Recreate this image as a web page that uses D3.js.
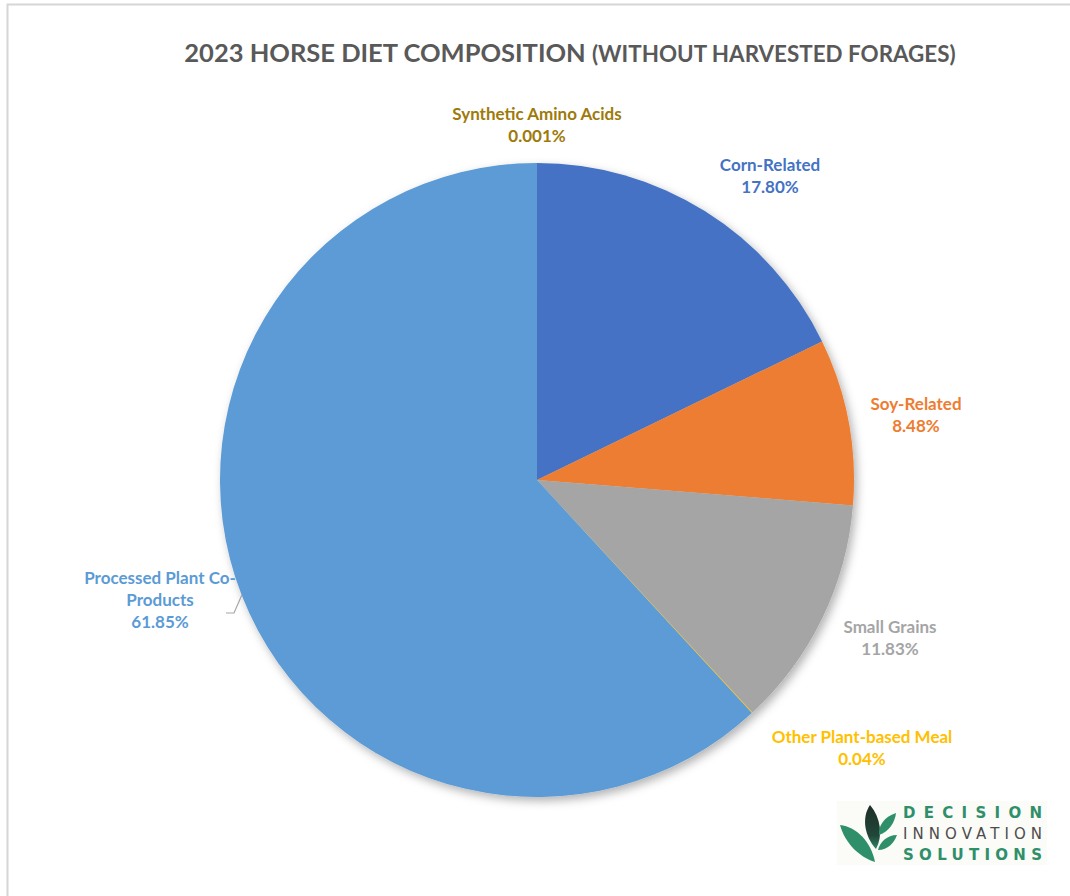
<!DOCTYPE html>
<html>
<head>
<meta charset="utf-8">
<script src="https://cdn.jsdelivr.net/npm/d3@7/dist/d3.min.js"></script>
<style>
  html, body { margin: 0; padding: 0; background: #fff; }
  svg { display: block; }
</style>
</head>
<body>
<svg id="chart" width="1070" height="896"></svg>
<script>
// Diet composition shares (%), clockwise from 12 o'clock
const categories = [
  "Corn-Related",
  "Soy-Related",
  "Small Grains",
  "Other Plant-based Meal",
  "Processed Plant Co-Products",
  "Synthetic Amino Acids"
];
const shares = [17.80, 8.48, 11.83, 0.04, 61.85, 0.001];
const shareLabels = ["17.80%", "8.48%", "11.83%", "0.04%", "61.85%", "0.001%"];
const labelLines = [
  ["Corn-Related"],
  ["Soy-Related"],
  ["Small Grains"],
  ["Other Plant-based Meal"],
  ["Processed Plant Co-", "Products"],
  ["Synthetic Amino Acids"]
];

// Slice fills and label colours
const sliceColors = ["#4472C4", "#ED7D31", "#A5A5A5", "#FFC000", "#5B9BD5", "#9E7A0A"];
const labelColors = ["#4472C4", "#ED7D31", "#A5A5A5", "#FFC000", "#5B9BD5", "#9E7A0A"];
// Label block centres (first line), in page pixels
const labelAnchors = [
  [770, 171], [916, 410], [890, 633], [862, 743], [160, 584], [537, 120]
];

const svg = d3.select("#chart");
const W = 1070, H = 896;
const cx = 537, cy = 480, R = 317;
const font = "Lato, 'Open Sans', sans-serif";

// Frame
svg.append("path")
  .attr("d", `M7.5,${H} V4.5 H${W}`)
  .attr("fill", "none")
  .attr("stroke", "#d6d6d6")
  .attr("stroke-width", 2);

// Title
const title = svg.append("text")
  .attr("x", 570).attr("y", 62)
  .attr("text-anchor", "middle")
  .attr("font-family", font)
  .attr("font-weight", "bold")
  .attr("fill", "#595959");
title.append("tspan").attr("font-size", 25.5).text("2023 HORSE DIET COMPOSITION ");
title.append("tspan").attr("font-size", 22.4).text("(WITHOUT HARVESTED FORAGES)");

// Shadow filter
const defs = svg.append("defs");
const f = defs.append("filter").attr("id", "pieShadow")
  .attr("x", "-10%").attr("y", "-10%").attr("width", "125%").attr("height", "125%");
f.append("feDropShadow")
  .attr("dx", 3).attr("dy", 4).attr("stdDeviation", 5)
  .attr("flood-color", "#000").attr("flood-opacity", 0.3);

const pie = d3.pie().sort(null).value(d => d);
const arcs = pie(shares);
const arc = d3.arc().innerRadius(0).outerRadius(R);
const edgeArc = d3.arc().innerRadius(R).outerRadius(R);

const g = svg.append("g").attr("transform", `translate(${cx},${cy})`);
const slices = g.append("g").attr("filter", "url(#pieShadow)");
slices.selectAll("path")
  .data(arcs)
  .join("path")
  .attr("d", arc)
  .attr("fill", (d, i) => sliceColors[i]);

// Data labels
const labels = svg.append("g")
  .attr("font-family", font)
  .attr("font-weight", "bold")
  .attr("font-size", 17)
  .attr("text-anchor", "middle");

categories.forEach((c, i) => {
  const [lx, ly] = labelAnchors[i];
  const t = labels.append("text")
    .attr("x", lx).attr("y", ly)
    .attr("fill", labelColors[i]);
  const lines = labelLines[i].concat([shareLabels[i]]);
  lines.forEach((s, k) => {
    t.append("tspan").attr("x", lx).attr("dy", k === 0 ? 0 : 22).text(s);
  });
});

// Leader line for the large slice
{
  const i = 4;
  const [ex, ey] = edgeArc.centroid(arcs[i]);
  const px = cx + ex, py = cy + ey;
  svg.append("polyline")
    .attr("points", `${226},${613} ${234},${613} ${px},${py}`)
    .attr("fill", "none")
    .attr("stroke", "#a6a6a6")
    .attr("stroke-width", 1.2);
}

// Company logo
const logo = svg.append("g");
logo.append("rect")
  .attr("x", 837).attr("y", 801).attr("width", 210).attr("height", 64)
  .attr("fill", "#fbfbf8");
const leafGrad = defs.append("linearGradient").attr("id", "darkLeaf")
  .attr("x1", 0).attr("y1", 0).attr("x2", 0).attr("y2", 1);
leafGrad.append("stop").attr("offset", "0%").attr("stop-color", "#1d2e26");
leafGrad.append("stop").attr("offset", "70%").attr("stop-color", "#22473a");
leafGrad.append("stop").attr("offset", "100%").attr("stop-color", "#2f8a67");
logo.append("path")
  .attr("d", "M870,805 C861,818 865,837 876,849 C883,836 881,818 870,805 Z")
  .attr("fill", "url(#darkLeaf)");
logo.append("path")
  .attr("d", "M840,825 C857,827 871,842 875,862 C859,857 845,843 840,825 Z")
  .attr("fill", "#2f8f6b");
logo.append("path")
  .attr("d", "M896,813 C884,817 878,826 879,835 C889,832 895,822 896,813 Z")
  .attr("fill", "#2f8f6b");
logo.append("path")
  .attr("d", "M897,835 C887,835 880,842 878,850 C888,850 894,843 897,835 Z")
  .attr("fill", "#2f8f6b");

const logoText = logo.append("g").attr("font-family", "'DejaVu Sans', sans-serif");
logoText.append("text").attr("x", 903).attr("y", 817.5)
  .attr("font-size", 15).attr("font-weight", "bold").attr("fill", "#2f8f6b")
  .attr("textLength", 139).attr("lengthAdjust", "spacing").text("DECISION");
logoText.append("text").attr("x", 903).attr("y", 838.5)
  .attr("font-size", 15).attr("fill", "#4d4d4d")
  .attr("textLength", 139).attr("lengthAdjust", "spacing").text("INNOVATION");
logoText.append("text").attr("x", 903).attr("y", 859.5)
  .attr("font-size", 15).attr("font-weight", "bold").attr("fill", "#2f8f6b")
  .attr("textLength", 139).attr("lengthAdjust", "spacing").text("SOLUTIONS");
</script>
</body>
</html>
